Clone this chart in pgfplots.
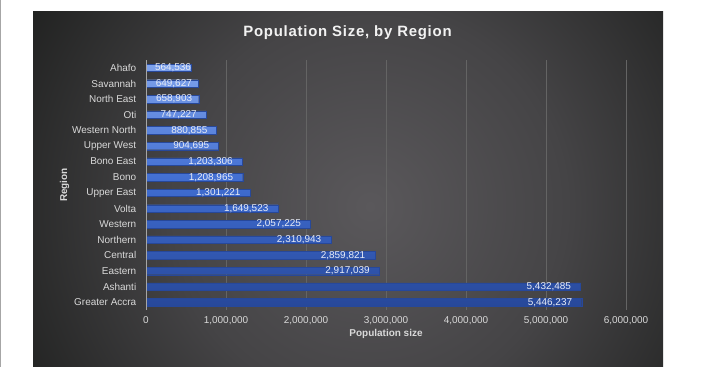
\documentclass[border=0pt]{standalone}
\usepackage{pgfplots}
\pgfplotsset{compat=1.18}
\usepackage{pgfplotstable}
\usepackage{fontspec}
\setmainfont{Liberation Sans}
\newfontfamily\titlefont[LetterSpace=5]{Liberation Sans}
\definecolor{bgin}{HTML}{5A585B}
\definecolor{bgmid}{HTML}{454446}
\definecolor{bgout}{HTML}{1E1F1E}
\definecolor{tickc}{HTML}{D9D9D9}
\definecolor{gridc}{HTML}{646464}
\definecolor{axc}{HTML}{A6A6A6}
\definecolor{bartop}{HTML}{7FA3EC}
\definecolor{barmid}{HTML}{3F6CD0}
\definecolor{barbot}{HTML}{27489A}
\definecolor{labc}{HTML}{E8ECF6}
\pgfdeclareradialshading{bgshade}{\pgfpoint{0bp}{0bp}}{color(0bp)=(bgin); color(12bp)=(bgmid); color(25bp)=(bgout); color(50bp)=(bgout)}
\pgfplotstableread[col sep=comma]{
name,val,sh
Ahafo,564536,0
Savannah,649627,-6
North East,658903,-6.5
Oti,747227,-9
Western North,880855,-9
Upper West,904695,-9
Bono East,1203306,-9.5
Bono,1208965,-9.5
Upper East,1301221,-9.5
Volta,1649523,-9.5
Western,2057225,-9.5
Northern,2310943,-9.5
Central,2859821,-9.5
Eastern,2917039,-9.5
Ashanti,5432485,-9.5
Greater Accra,5446237,-9.5
}\data
\begin{document}
\begin{tikzpicture}[x=1bp,y=1bp]
\fill[white] (0,0) rectangle (720,366);
\draw[gray!70,line width=1bp] (0.5,0) -- (0.5,366);
\begin{scope}
\clip (33,0) rectangle (663,355);
\shade[shading=bgshade] (370,160) circle (410);
\end{scope}
\node[text=white!95!black,font=\titlefont\bfseries\fontsize{15}{18}\selectfont] at (347.5,334) {Population Size, by Region};
\begin{axis}[
  at={(146bp,56.5bp)}, anchor=south west,
  scale only axis, width=480bp, height=250bp,
  xbar, bar width=7.5bp,
  xmin=0, xmax=6000000,
  ymin=-0.5, ymax=15.5, y dir=reverse,
  ytick={0,...,15},
  yticklabels from table={\data}{name},
  xtick={0,1000000,...,6000000},
  scaled x ticks=false,
  x tick label style={/pgf/number format/fixed, /pgf/number format/1000 sep={,}, yshift=-3bp},
  /pgf/number format/assume math mode=true,
  tick style={draw=none},
  ticklabel style={text=tickc, font=\fontsize{10}{12}\selectfont},
  y tick label style={xshift=-2bp},
  axis line style={draw=none},
  xmajorgrids, grid style={gridc, line width=0.6bp},
  xlabel={\bfseries Population size},
  ylabel={\bfseries Region},
  xlabel style={text=tickc, font=\fontsize{10}{12}\selectfont, yshift=2bp},
  ylabel style={text=tickc, font=\fontsize{10}{12}\selectfont, yshift=-4bp},
  point meta=x,
  nodes near coords={\pgfmathprintnumber[fixed,precision=0,1000 sep={,}]{\pgfplotspointmeta}},
  visualization depends on={\thisrow{sh} \as \labshift},
  nodes near coords style={anchor=east, xshift=\labshift, inner sep=0pt, text=labc, font=\fontsize{10}{12}\selectfont},
  clip=false,
]
\addplot[xbar, draw=barbot, line width=0.3bp, top color=bartop, bottom color=barbot, middle color=barmid]
  table[x=val, y expr=\coordindex] {\data};
\draw[axc, line width=0.8bp] (axis cs:0,-0.5) -- (axis cs:0,15.5);
\end{axis}
\end{tikzpicture}
\end{document}
